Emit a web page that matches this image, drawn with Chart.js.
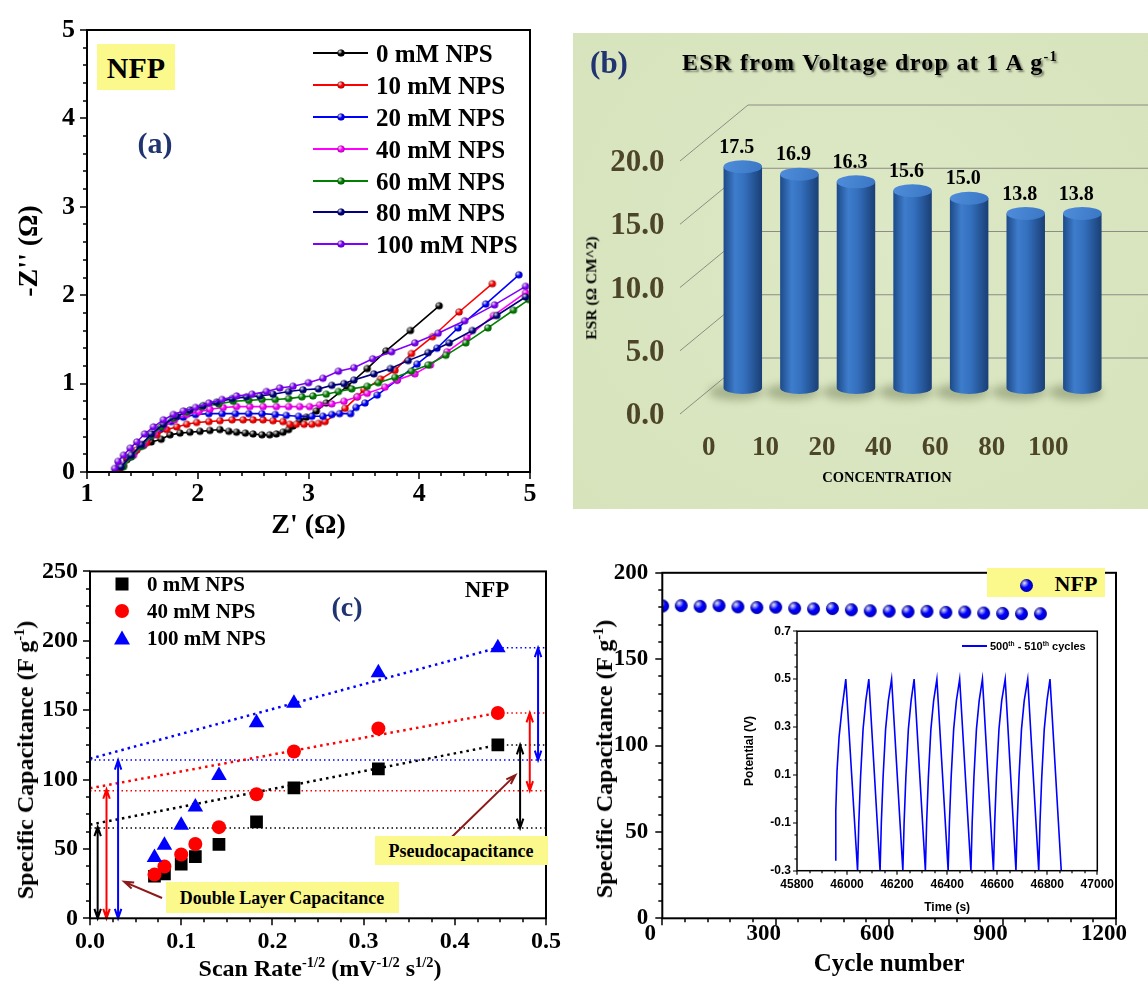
<!DOCTYPE html>
<html>
<head>
<meta charset="utf-8">
<script src="https://cdn.jsdelivr.net/npm/chart.js@4.4.1/dist/chart.umd.min.js"></script>
<style>
  html, body { margin: 0; padding: 0; background: #fff; }
  #fig { position: relative; width: 1148px; height: 981px; overflow: hidden;
         font-family: 'Liberation Serif', 'Times New Roman', serif; font-weight: bold; color: #000; }
  canvas { position: absolute; }
  .t { position: absolute; white-space: nowrap; line-height: 1; }
  .c { transform: translate(-50%, -50%); }
  .l { transform: translate(0, -50%); }
  .v { transform: translate(-50%, -50%) rotate(-90deg); }
  .box { position: absolute; background: #fbf98c; }
  sup { font-size: 0.6em; vertical-align: 0.6em; line-height: 0; }
</style>
</head>
<body>
<div id="fig">
  <div style="position:absolute;left:573px;top:33px;width:575px;height:476px;background:radial-gradient(ellipse at 50% 45%, #dde8c6 0%, #d6e3bb 100%);"></div>
  <canvas id="cA" width="560" height="545" style="left:0;top:0"></canvas>
  <canvas id="cB" width="575" height="480" style="left:573px;top:30px"></canvas>
  <canvas id="cC" width="570" height="436" style="left:0;top:545px"></canvas>
  <canvas id="cD" width="568" height="436" style="left:580px;top:545px"></canvas>
  <canvas id="cE" width="400" height="300" style="left:730px;top:618px"></canvas>
</div>
<script>
// ---- (a) Nyquist plot ----
const nyqLabels = ['0 mM NPS', '10 mM NPS', '20 mM NPS', '40 mM NPS', '60 mM NPS', '80 mM NPS', '100 mM NPS'];
const zre0 = [1.28,1.36,1.43,1.51,1.58,1.67,1.75,1.84,1.93,2.02,2.11,2.20,2.28,2.35,2.43,2.50,2.58,2.65,2.71,2.77,2.82,2.86,2.92,2.98,3.07,3.16,3.35,3.53,3.70,3.92,4.18];
const zim0 = [0.03,0.14,0.23,0.30,0.34,0.37,0.42,0.44,0.45,0.46,0.47,0.48,0.46,0.45,0.44,0.43,0.42,0.42,0.43,0.45,0.48,0.52,0.58,0.62,0.69,0.78,0.97,1.17,1.37,1.60,1.88];
const zre10 = [1.30,1.37,1.45,1.54,1.63,1.72,1.81,1.90,1.99,2.10,2.20,2.31,2.41,2.50,2.59,2.68,2.77,2.83,2.89,2.96,3.03,3.09,3.15,3.33,3.44,3.50,3.65,3.78,3.93,4.12,4.36,4.66];
const zim10 = [0.04,0.16,0.25,0.33,0.42,0.48,0.51,0.54,0.56,0.57,0.58,0.59,0.59,0.59,0.59,0.58,0.57,0.54,0.54,0.54,0.54,0.55,0.57,0.72,0.85,0.93,1.05,1.15,1.34,1.53,1.81,2.13];
const zre20 = [1.30,1.39,1.48,1.57,1.66,1.76,1.87,1.98,2.10,2.22,2.34,2.46,2.58,2.70,2.80,2.91,3.03,3.13,3.21,3.28,3.38,3.43,3.51,3.62,3.80,3.98,4.16,4.35,4.60,4.90];
const zim20 = [0.06,0.17,0.29,0.40,0.49,0.57,0.62,0.65,0.66,0.66,0.66,0.66,0.66,0.65,0.64,0.63,0.63,0.63,0.65,0.66,0.66,0.73,0.78,0.87,1.04,1.22,1.40,1.63,1.90,2.23];
const zre40 = [1.33,1.42,1.51,1.60,1.69,1.79,1.90,2.01,2.11,2.23,2.35,2.47,2.59,2.71,2.82,2.92,3.01,3.10,3.21,3.32,3.44,3.53,3.69,3.80,3.96,4.10,4.25,4.43,4.67,4.96];
const zim40 = [0.08,0.19,0.31,0.42,0.51,0.59,0.65,0.68,0.71,0.73,0.74,0.74,0.74,0.74,0.74,0.74,0.74,0.76,0.77,0.80,0.85,0.89,0.96,1.04,1.11,1.21,1.36,1.52,1.77,2.03];
const zre60 = [1.33,1.40,1.49,1.58,1.67,1.78,1.90,2.04,2.19,2.32,2.46,2.58,2.70,2.82,2.94,3.04,3.16,3.27,3.39,3.53,3.63,3.78,3.93,4.08,4.24,4.42,4.62,4.85,4.99];
const zim60 = [0.06,0.17,0.29,0.41,0.51,0.61,0.68,0.74,0.77,0.80,0.81,0.82,0.82,0.83,0.85,0.86,0.88,0.91,0.94,0.97,1.01,1.07,1.14,1.21,1.32,1.46,1.63,1.83,1.95];
const zre80 = [1.31,1.40,1.49,1.58,1.69,1.81,1.93,2.05,2.17,2.31,2.44,2.56,2.68,2.82,2.95,3.09,3.21,3.32,3.41,3.59,3.74,3.90,4.08,4.27,4.48,4.70,4.96];
const zim80 = [0.06,0.19,0.31,0.43,0.54,0.63,0.70,0.75,0.79,0.83,0.85,0.86,0.88,0.91,0.93,0.94,0.98,1.00,1.04,1.11,1.17,1.26,1.35,1.46,1.60,1.77,1.98];
const zre100 = [1.25,1.28,1.33,1.39,1.45,1.52,1.60,1.69,1.78,1.87,1.98,2.10,2.22,2.35,2.49,2.62,2.74,2.86,3.00,3.13,3.27,3.41,3.58,3.75,3.96,4.17,4.41,4.68,4.96];
const zim100 = [0.04,0.12,0.19,0.27,0.34,0.43,0.51,0.59,0.65,0.69,0.73,0.78,0.82,0.86,0.88,0.91,0.95,0.97,1.01,1.06,1.14,1.18,1.28,1.36,1.46,1.57,1.71,1.89,2.10];

// ---- (b) ESR bars ----
const concLabels = ['0', '10', '20', '40', '60', '80', '100'];
const esrValues = [17.5, 16.9, 16.3, 15.6, 15.0, 13.8, 13.8];

// ---- (c) capacitance vs scan rate^-1/2 ----
const scanX = [0.0707, 0.0816, 0.1, 0.1155, 0.1414, 0.1826, 0.2236, 0.3162, 0.4472];
const cap0 = [30.3, 32.0, 39.0, 44.4, 53.3, 69.5, 94.0, 107.7, 124.9];
const cap40 = [31.5, 37.3, 46.0, 53.5, 65.7, 89.4, 120.2, 136.8, 148.0];
const cap100 = [43.9, 52.6, 67.0, 80.3, 103.0, 141.0, 155.0, 177.0, 195.0];
const trendX = [0, 0.4472];
const trend0 = [67.5, 124.9];
const trend40 = [93.7, 148.0];
const trend100 = [115.0, 195.0];
const guideX = [0, 0.5];
const baseLevel = [65, 92, 114];
const topX = [0.4472, 0.5];
const topLevel = [124.9, 148.0, 195.0];
const arrowX = [0.0084, 0.0181, 0.0308, 0.4716, 0.4822, 0.4913];
const arrowLow = [0, 0, 0, 65, 92, 114];
const arrowHigh = [66, 93, 114, 125, 148, 195];
const pointerX0 = [0.079, 0.395];
const pointerY0 = [14.6, 57.5];
const pointerX1 = [0.0375, 0.4664];
const pointerY1 = [26.3, 103.2];

// ---- (d) cycling + inset ----
const cycleNo = [1,50,100,150,200,250,300,350,400,450,500,550,600,650,700,750,800,850,900,950,1000];
const capRetention = [180.8,181.0,180.6,181.0,180.3,179.9,180.1,179.5,179.1,179.3,178.6,178.0,177.8,177.5,177.7,177.1,177.3,176.7,176.5,176.3,176.3];
const gcdTime = [45952,45955,45960,45968,45979,45995,
  46042,46047,46054,46064,46075,46087,
  46132,46137,46144,46154,46165,46178,
  46223,46228,46235,46245,46256,46268,
  46313,46318,46325,46335,46346,46359,
  46404,46409,46416,46426,46437,46450,
  46495,46500,46507,46517,46528,46541,
  46585,46590,46597,46607,46618,46632,
  46675,46680,46687,46697,46708,46722,
  46766,46771,46778,46788,46799,46811,
  46856];
const gcdVolt = [-0.255,-0.05,0.117,0.257,0.368,0.5,
  -0.3,-0.1,0.09,0.29,0.41,0.5,
  -0.3,-0.1,0.09,0.29,0.41,0.5,
  -0.3,-0.1,0.09,0.29,0.41,0.5,
  -0.3,-0.1,0.09,0.29,0.41,0.5,
  -0.3,-0.1,0.09,0.29,0.41,0.5,
  -0.3,-0.1,0.09,0.29,0.41,0.5,
  -0.3,-0.1,0.09,0.29,0.41,0.5,
  -0.3,-0.1,0.09,0.29,0.41,0.5,
  -0.3,-0.1,0.09,0.29,0.41,0.5,
  -0.3];

const SERIF = "'Liberation Serif', 'Times New Roman', serif";
const SANS = "'Liberation Sans', Arial, sans-serif";
const nyqColors = ['#000000', '#ff0000', '#0000ff', '#ff00ff', '#008000', '#000080', '#8000ff'];
const NAVY = '#1f3470';
const OLIVE = '#4d4528';

Chart.defaults.font.family = SERIF;
Chart.defaults.font.weight = 'bold';
Chart.defaults.color = '#000';
Chart.defaults.animation = false;
Chart.defaults.responsive = false;
Chart.defaults.events = [];
Chart.defaults.plugins.legend.display = false;
Chart.defaults.plugins.tooltip.enabled = false;

const pts = (xs, ys) => xs.map((x, i) => ({ x, y: ys[i] }));

function sphere(color, r) {
  const s = Math.ceil(r * 2 + 2);
  const c = document.createElement('canvas');
  c.width = c.height = s;
  const g = c.getContext('2d');
  const m = s / 2;
  g.beginPath(); g.arc(m, m, r, 0, Math.PI * 2); g.fillStyle = color; g.fill();
  const hl = g.createRadialGradient(m - r * 0.35, m - r * 0.4, 0, m - r * 0.35, m - r * 0.4, r * 0.75);
  hl.addColorStop(0, 'rgba(255,255,255,0.95)');
  hl.addColorStop(1, 'rgba(255,255,255,0)');
  g.fillStyle = hl; g.fill();
  const sh = g.createRadialGradient(m, m, r * 0.45, m, m, r);
  sh.addColorStop(0, 'rgba(0,0,0,0)');
  sh.addColorStop(1, 'rgba(0,0,0,0.35)');
  g.fillStyle = sh; g.fill();
  return c;
}

// frame around the plot area plus outward major/minor ticks
const frameTicks = {
  id: 'frameTicks',
  defaults: { frame: 2, tick: 1.5, majorLen: 7, minorLen: 4, xMinor: 1, yMinor: 1 },
  afterDraw(chart, args, o) {
    const { ctx, chartArea: a } = chart;
    const xs = chart.scales.x, ys = chart.scales.y;
    ctx.save();
    ctx.strokeStyle = '#000';
    ctx.lineWidth = o.frame;
    ctx.strokeRect(a.left, a.top, a.right - a.left, a.bottom - a.top);
    ctx.lineWidth = o.tick;
    ctx.beginPath();
    const xTick = (v, len) => { const p = Math.round(xs.getPixelForValue(v)); ctx.moveTo(p, a.bottom); ctx.lineTo(p, a.bottom + len); };
    const yTick = (v, len) => { const p = Math.round(ys.getPixelForValue(v)); ctx.moveTo(a.left, p); ctx.lineTo(a.left - len, p); };
    for (let k = 0; xs.min + k * o.xMinor <= xs.max + 1e-9; k++) xTick(xs.min + k * o.xMinor, o.minorLen);
    for (let k = 0; ys.min + k * o.yMinor <= ys.max + 1e-9; k++) yTick(ys.min + k * o.yMinor, o.minorLen);
    xs.ticks.forEach(t => xTick(t.value, o.majorLen));
    ys.ticks.forEach(t => yTick(t.value, o.majorLen));
    ctx.stroke();
    ctx.restore();
  }
};

function axisOpts(min, max, step, font, pad, fmt, extra, shift) {
  return Object.assign({
    type: 'linear', min, max,
    ticks: { stepSize: step, font, padding: pad, autoSkip: false, callback: fmt, labelOffset: shift || 0 },
    grid: { display: false, drawTicks: false },
    border: { display: false }
  }, extra || {});
}

// ---------- (a) ----------
const nyqRe = [zre0, zre10, zre20, zre40, zre60, zre80, zre100];
const nyqIm = [zim0, zim10, zim20, zim40, zim60, zim80, zim100];
const nyqSpheres = nyqColors.map(c => sphere(c, 3.6));

new Chart(document.getElementById('cA'), {
  type: 'scatter',
  data: {
    datasets: nyqLabels.map((lab, i) => ({
      label: lab,
      data: pts(nyqRe[i], nyqIm[i]),
      showLine: true,
      borderColor: nyqColors[i],
      borderWidth: 1.6,
      pointStyle: nyqSpheres[i],
      order: nyqLabels.length - i
    }))
  },
  options: {
    layout: { padding: { top: 30, right: 30, left: 0, bottom: 0 } },
    scales: {
      x: axisOpts(1, 5, 1, { size: 26 }, 7, v => String(v), {
        title: { display: true, text: "Z' (Ω)", font: { size: 28 }, padding: { top: 0, bottom: 2 } },
        afterFit: s => { s.height = 73; }
      }),
      y: axisOpts(0, 5, 1, { size: 26 }, 12, v => String(v), {
        title: { display: true, text: "-Z'' (Ω)", font: { size: 28 }, padding: { top: 13, bottom: 0 } },
        afterFit: s => { s.width = 87; }
      })
    },
    plugins: { frameTicks: { xMinor: 0.2, yMinor: 0.2 } }
  },
  plugins: [frameTicks]
});

// ---------- (b) ----------
const BAR_PCT = 0.68;
function cylGrad(ctx, cx, hw) {
  const g = ctx.createLinearGradient(cx - hw, 0, cx + hw, 0);
  g.addColorStop(0, '#1d4a88');
  g.addColorStop(0.3, '#3e7dcc');
  g.addColorStop(0.55, '#336fbd');
  g.addColorStop(1, '#1a3f75');
  return g;
}
const cylinders = {
  id: 'cylinders',
  beforeDatasetsDraw(chart) {
    const { ctx, scales: { y } } = chart;
    ctx.save();
    ctx.strokeStyle = '#8c8c84';
    ctx.lineWidth = 1;
    y.ticks.forEach(t => {
      const p = y.getPixelForValue(t.value);
      ctx.beginPath();
      ctx.moveTo(107, p + 26);
      ctx.lineTo(175, p - 30);
      ctx.lineTo(chart.width, p - 30);
      ctx.stroke();
    });
    ctx.filter = 'blur(4px)';
    ctx.fillStyle = 'rgba(70,80,40,0.35)';
    chart.getDatasetMeta(0).data.forEach(bar => {
      ctx.beginPath();
      ctx.ellipse(bar.x - 7, bar.base + 4, bar.width / 2 + 8, 8, 0, 0, Math.PI * 2);
      ctx.fill();
    });
    ctx.restore();
  },
  afterDatasetsDraw(chart) {
    const { ctx } = chart;
    ctx.save();
    chart.getDatasetMeta(0).data.forEach((bar, i) => {
      const hw = bar.width / 2;
      ctx.fillStyle = cylGrad(ctx, bar.x, hw);
      ctx.beginPath();
      ctx.ellipse(bar.x, bar.base, hw, 6, 0, 0, Math.PI);
      ctx.fill();
      const cap = ctx.createLinearGradient(bar.x - hw, bar.y - 6, bar.x + hw, bar.y + 6);
      cap.addColorStop(0, '#4f8ddb');
      cap.addColorStop(1, '#3a76c4');
      ctx.fillStyle = cap;
      ctx.beginPath();
      ctx.ellipse(bar.x, bar.y, hw, 6.5, 0, 0, Math.PI * 2);
      ctx.fill();
      ctx.fillStyle = '#000';
      ctx.font = 'bold 20px ' + SERIF;
      ctx.textAlign = 'center';
      ctx.textBaseline = 'middle';
      ctx.fillText(esrValues[i].toFixed(1), bar.x - 6, bar.y - 19);
    });
    ctx.restore();
  }
};

new Chart(document.getElementById('cB'), {
  type: 'bar',
  data: {
    labels: concLabels,
    datasets: [{
      data: esrValues,
      barPercentage: BAR_PCT,
      categoryPercentage: 1,
      backgroundColor: c => {
        const ch = c.chart, xs = ch.scales.x;
        if (!xs || !ch.chartArea) return '#2e6bb8';
        const cx = xs.getPixelForValue(c.dataIndex);
        return cylGrad(ch.ctx, cx, xs.width / concLabels.length * BAR_PCT / 2);
      }
    }]
  },
  options: {
    layout: { padding: { top: 105, right: 20, left: 0, bottom: 0 } },
    scales: {
      x: {
        grid: { display: false, drawTicks: false }, border: { display: false },
        ticks: { font: { size: 27 }, color: OLIVE, padding: 44, labelOffset: -34 },
        afterFit: s => { s.height = 122; }
      },
      y: {
        min: 0, max: 20,
        grid: { display: false, drawTicks: false }, border: { display: false },
        ticks: { stepSize: 5, font: { size: 31 }, color: OLIVE, padding: 50, labelOffset: 28, callback: v => v.toFixed(1) },
        afterFit: s => { s.width = 141.5; }
      }
    }
  },
  plugins: [cylinders]
});

// ---------- (c) ----------
const capArrows = {
  id: 'capArrows',
  afterDatasetsDraw(chart) {
    const { ctx, scales: { x, y } } = chart;
    const arrowCols = ['#000', '#ff0000', '#0000ff', '#000', '#ff0000', '#0000ff'];
    const head = (x0, y0, x1, y1) => {
      const a = Math.atan2(y1 - y0, x1 - x0), L = 10, s = 0.33;
      ctx.moveTo(x1 - L * Math.cos(a - s), y1 - L * Math.sin(a - s));
      ctx.lineTo(x1, y1);
      ctx.lineTo(x1 - L * Math.cos(a + s), y1 - L * Math.sin(a + s));
    };
    ctx.save();
    ctx.lineWidth = 2;
    arrowX.forEach((v, i) => {
      const px = x.getPixelForValue(v), p0 = y.getPixelForValue(arrowLow[i]), p1 = y.getPixelForValue(arrowHigh[i]);
      ctx.strokeStyle = arrowCols[i];
      ctx.beginPath();
      ctx.moveTo(px, p0); ctx.lineTo(px, p1);
      head(px, p0, px, p1);
      head(px, p1, px, p0);
      ctx.stroke();
    });
    ctx.strokeStyle = '#8b1a1a';
    pointerX0.forEach((v, i) => {
      const ax = x.getPixelForValue(v), ay = y.getPixelForValue(pointerY0[i]);
      const bx = x.getPixelForValue(pointerX1[i]), by = y.getPixelForValue(pointerY1[i]);
      ctx.beginPath();
      ctx.moveTo(ax, ay); ctx.lineTo(bx, by);
      head(ax, ay, bx, by);
      ctx.stroke();
    });
    ctx.restore();
  }
};
const dotted = (data, color, w, dash, order) => ({
  data, showLine: true, borderColor: color, borderWidth: w, borderDash: dash, pointRadius: 0, order
});
const capCols = ['#000', '#ff0000', '#0000ff'];
new Chart(document.getElementById('cC'), {
  type: 'scatter',
  data: {
    datasets: [
      { data: pts(scanX, cap0), pointStyle: 'rect', pointRadius: 9, backgroundColor: '#000', borderWidth: 0, order: 3 },
      { data: pts(scanX, cap40), pointStyle: 'circle', pointRadius: 7, backgroundColor: '#ff0000', borderWidth: 0, order: 2 },
      { data: pts(scanX, cap100), pointStyle: 'triangle', pointRadius: 9, backgroundColor: '#0000ff', borderWidth: 0, order: 1 },
      dotted(pts(trendX, trend0), '#000', 2.5, [2.5, 4], 10),
      dotted(pts(trendX, trend40), '#ff0000', 2.5, [2.5, 4], 10),
      dotted(pts(trendX, trend100), '#0000ff', 2.5, [2.5, 4], 10),
      ...baseLevel.map((lv, i) => dotted(pts(guideX, [lv, lv]), capCols[i], 1.5, [1.5, 3], 11)),
      ...topLevel.map((lv, i) => dotted(pts(topX, [lv, lv]), capCols[i], 1.5, [1.5, 3], 11))
    ]
  },
  options: {
    layout: { padding: { top: 18.3, right: 20, left: 0, bottom: 0 } },
    scales: {
      x: axisOpts(0, 0.5, 0.1, { size: 24 }, 9, v => v.toFixed(1), { afterFit: s => { s.height = 62.7; } }),
      y: axisOpts(0, 250, 50, { size: 24 }, 12, v => String(v), { afterFit: s => { s.width = 90; } })
    },
    plugins: { frameTicks: { xMinor: 0.025, yMinor: 12.5 } }
  },
  plugins: [frameTicks, capArrows]
});

// ---------- (d) ----------
new Chart(document.getElementById('cD'), {
  type: 'scatter',
  data: {
    datasets: [{ data: pts(cycleNo, capRetention), pointStyle: sphere('#0000ff', 6.4) }]
  },
  options: {
    layout: { padding: { top: 17.3, right: 32, left: 0, bottom: 0 } },
    scales: {
      x: axisOpts(0, 1200, 300, { size: 23 }, 2, v => String(v), {
        title: { display: true, text: 'Cycle number', font: { size: 25 }, padding: { top: 0, bottom: 1 } },
        afterFit: s => { s.height = 62.7; }
      }, -12),
      y: axisOpts(0, 200, 50, { size: 23 }, 14, v => String(v), { afterFit: s => { s.width = 82.3; } })
    },
    plugins: { frameTicks: { xMinor: 60, yMinor: 10 } }
  },
  plugins: [frameTicks]
});

// inset GCD
new Chart(document.getElementById('cE'), {
  type: 'scatter',
  data: {
    datasets: [{ data: pts(gcdTime, gcdVolt), showLine: true, borderColor: '#0000ff', borderWidth: 1.6, pointRadius: 0 }]
  },
  options: {
    layout: { padding: { top: 12, right: 32.7, left: 0, bottom: 0 } },
    scales: {
      x: axisOpts(45800, 47000, 200, { size: 12, family: SANS }, 7, v => String(v), {
        title: { display: true, text: 'Time (s)', font: { size: 12, family: SANS }, padding: { top: 0, bottom: 3 } },
        afterFit: s => { s.height = 47.3; }
      }),
      y: axisOpts(-0.3, 0.7, 0.2, { size: 12, family: SANS }, 6, v => v.toFixed(1), {
        title: { display: true, text: 'Potential (V)', font: { size: 12, family: SANS }, padding: { top: 12.8, bottom: 0 } },
        afterFit: s => { s.width = 67; }
      })
    },
    plugins: { frameTicks: { frame: 1.5, tick: 1.2, majorLen: 4, minorLen: 2.5, xMinor: 50, yMinor: 0.05 } }
  },
  plugins: [frameTicks]
});

// ---------- text annotations ----------
const fig = document.getElementById('fig');
function note(html, x, y, cls, css) {
  const d = document.createElement('div');
  d.className = 't ' + (cls || 'c');
  d.style.left = x + 'px';
  d.style.top = y + 'px';
  d.innerHTML = html;
  Object.assign(d.style, css || {});
  fig.appendChild(d);
  return d;
}
function yellowBox(x, y, w, h) {
  const b = document.createElement('div');
  b.className = 'box';
  Object.assign(b.style, { left: x + 'px', top: y + 'px', width: w + 'px', height: h + 'px' });
  fig.appendChild(b);
}

// (a)
yellowBox(97, 44, 78, 46);
note('NFP', 136, 68, 'c', { fontSize: '30px' });
note('(a)', 155, 143, 'c', { fontSize: '30px', color: NAVY });
const legRowsA = [53, 85, 117, 149, 181, 212, 244];
nyqLabels.forEach((lab, i) => {
  const ln = document.createElement('div');
  Object.assign(ln.style, { position: 'absolute', left: '313px', top: (legRowsA[i] - 1) + 'px', width: '55px', height: '2px', background: nyqColors[i] });
  fig.appendChild(ln);
  const im = document.createElement('img');
  im.src = nyqSpheres[i].toDataURL();
  Object.assign(im.style, { position: 'absolute', left: (341 - nyqSpheres[i].width / 2) + 'px', top: (legRowsA[i] - nyqSpheres[i].height / 2) + 'px' });
  fig.appendChild(im);
  note(lab, 376, legRowsA[i], 'l', { fontSize: '25px' });
});

// (b)
note('(b)', 609, 62, 'c', { fontSize: '31px', color: NAVY });
note('ESR from Voltage drop at 1 A g<sup>-1</sup>', 682, 62, 'l',
  { fontSize: '24px', letterSpacing: '1.3px', textShadow: '2px 2px 2px rgba(0,0,0,0.45)' });
note('ESR (Ω CM^2)', 591, 288, 'v', { fontSize: '15.5px' });
note('CONCENTRATION', 887, 477, 'c', { fontSize: '14.5px' });

// (c)
const legRowsC = [584, 611, 638];
const markerSvg = [
  '<svg width="16" height="16"><rect x="1.5" y="1.5" width="13" height="13" fill="#000"/></svg>',
  '<svg width="16" height="16"><circle cx="8" cy="8" r="7" fill="#ff0000"/></svg>',
  '<svg width="18" height="16"><polygon points="9,0.5 17,14.5 1,14.5" fill="#0000ff"/></svg>'
];
['0 mM NPS', '40 mM NPS', '100 mM NPS'].forEach((lab, i) => {
  note(markerSvg[i], 122, legRowsC[i], 'c', { lineHeight: '0' });
  note(lab, 147, legRowsC[i], 'l', { fontSize: '21px' });
});
note('(c)', 347, 607, 'c', { fontSize: '28px', color: NAVY });
note('NFP', 487, 589, 'c', { fontSize: '23px' });
yellowBox(166, 882, 233, 31);
note('Double Layer Capacitance', 282, 898, 'c', { fontSize: '18px' });
yellowBox(375, 836, 173, 29);
note('Pseudocapacitance', 461, 851, 'c', { fontSize: '18px' });
note('Scan Rate<sup>-1/2</sup> (mV<sup>-1/2</sup> s<sup>1/2</sup>)', 320, 968, 'c', { fontSize: '24px' });
note('Specific Capacitance (F g<sup>-1</sup>)', 25, 760, 'v', { fontSize: '24px' });

// (d)
yellowBox(987, 568, 118, 29);
const dSphere = sphere('#0000ff', 6.4);
const dImg = document.createElement('img');
dImg.src = dSphere.toDataURL();
Object.assign(dImg.style, { position: 'absolute', left: (1026 - dSphere.width / 2) + 'px', top: (585 - dSphere.height / 2) + 'px' });
fig.appendChild(dImg);
note('NFP', 1076, 584, 'c', { fontSize: '22px' });
note('Specific Capacitance (F g<sup>-1</sup>)', 604, 759, 'v', { fontSize: '24px' });
const insetLine = document.createElement('div');
Object.assign(insetLine.style, { position: 'absolute', left: '962px', top: '645px', width: '25px', height: '2px', background: '#0000ff' });
fig.appendChild(insetLine);
note('500<sup>th</sup> - 510<sup>th</sup> cycles', 990, 646, 'l', { fontSize: '11px', fontFamily: SANS });
</script>
</body>
</html>
